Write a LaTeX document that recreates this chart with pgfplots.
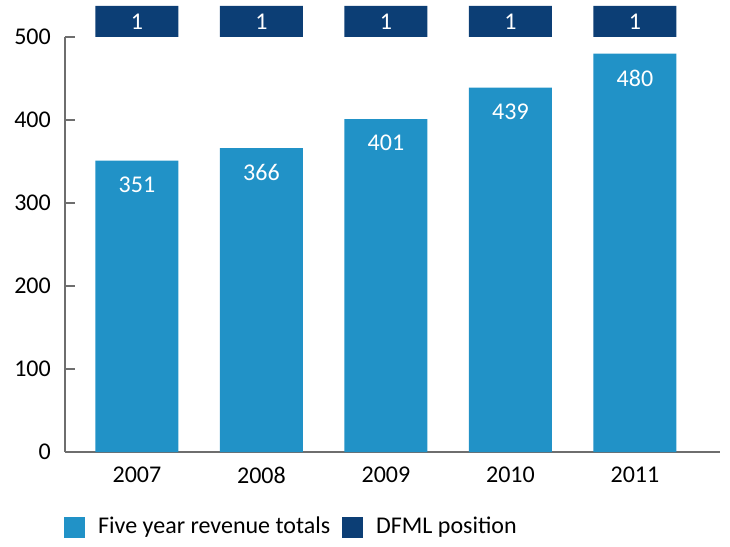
\documentclass[border=0pt]{standalone}
\usepackage{pgfplots}
\pgfplotsset{compat=1.18}
\usepackage{fontspec}
\setmainfont{Carlito}
\definecolor{revblue}{RGB}{33,146,199}
\definecolor{navy}{RGB}{12,62,117}
\definecolor{axgray}{RGB}{110,110,110}
\pgfplotsset{sqlegend/.style={legend image code/.code={%
  \fill[##1] (0pt,-10.5pt) rectangle (21pt,10.5pt);}}}

\begin{document}
\fontsize{24}{28}\selectfont%
\begin{tikzpicture}[x=1pt,y=1pt]
\path[use as bounding box] (0,0) rectangle (730,546);
% revenue bars
\begin{axis}[
  at={(65pt,94pt)}, anchor=south west,
  scale only axis, width=655pt, height=415pt,
  xmin=-0.578, xmax=4.683, ymin=0, ymax=500,
  axis lines=left,
  axis line style={axgray, line width=1.5pt, -},
  ytick={0,100,...,500},
  xtick={0,...,4},
  xticklabels={2007,2008,2009,2010,2011},
  xtick style={draw=none},
  ytick style={axgray, line width=1.5pt},
  tick align=inside,
  major tick length=10pt,
  yticklabel style={xshift=-6pt},
  xticklabel style={yshift=-7pt},
  /pgf/number format/assume math mode=true,
  legend style={at={(axis description cs:0,0)}, anchor=north west,
    yshift=-63pt, xshift=-1pt, draw=none, inner sep=0pt,
    /tikz/every odd column/.append style={column sep=11pt},
    /tikz/every even column/.append style={column sep=10pt}},
  legend columns=2,
]
\addplot[ybar, bar width=0.667, fill=revblue, draw=none,
  nodes near coords,
  nodes near coords style={anchor=north, text=white, yshift=-8pt},
  sqlegend]
  coordinates {(0,351) (1,366) (2,401) (3,439) (4,480)};
\addlegendentry{Five year revenue totals}
\addlegendimage{fill=navy, draw=none, sqlegend}
\addlegendentry{DFML position}
\end{axis}
% DFML position boxes
\begin{axis}[
  at={(65pt,509pt)}, anchor=south west,
  scale only axis, width=655pt, height=31pt,
  xmin=-0.578, xmax=4.683, ymin=0, ymax=1,
  hide axis,
  /pgf/number format/assume math mode=true,
]
\addplot[ybar, bar width=0.667, fill=navy, draw=none,
  nodes near coords,
  nodes near coords style={anchor=center, text=white, yshift=-15.5pt}]
  coordinates {(0,1) (1,1) (2,1) (3,1) (4,1)};
\end{axis}
\end{tikzpicture}
\end{document}
